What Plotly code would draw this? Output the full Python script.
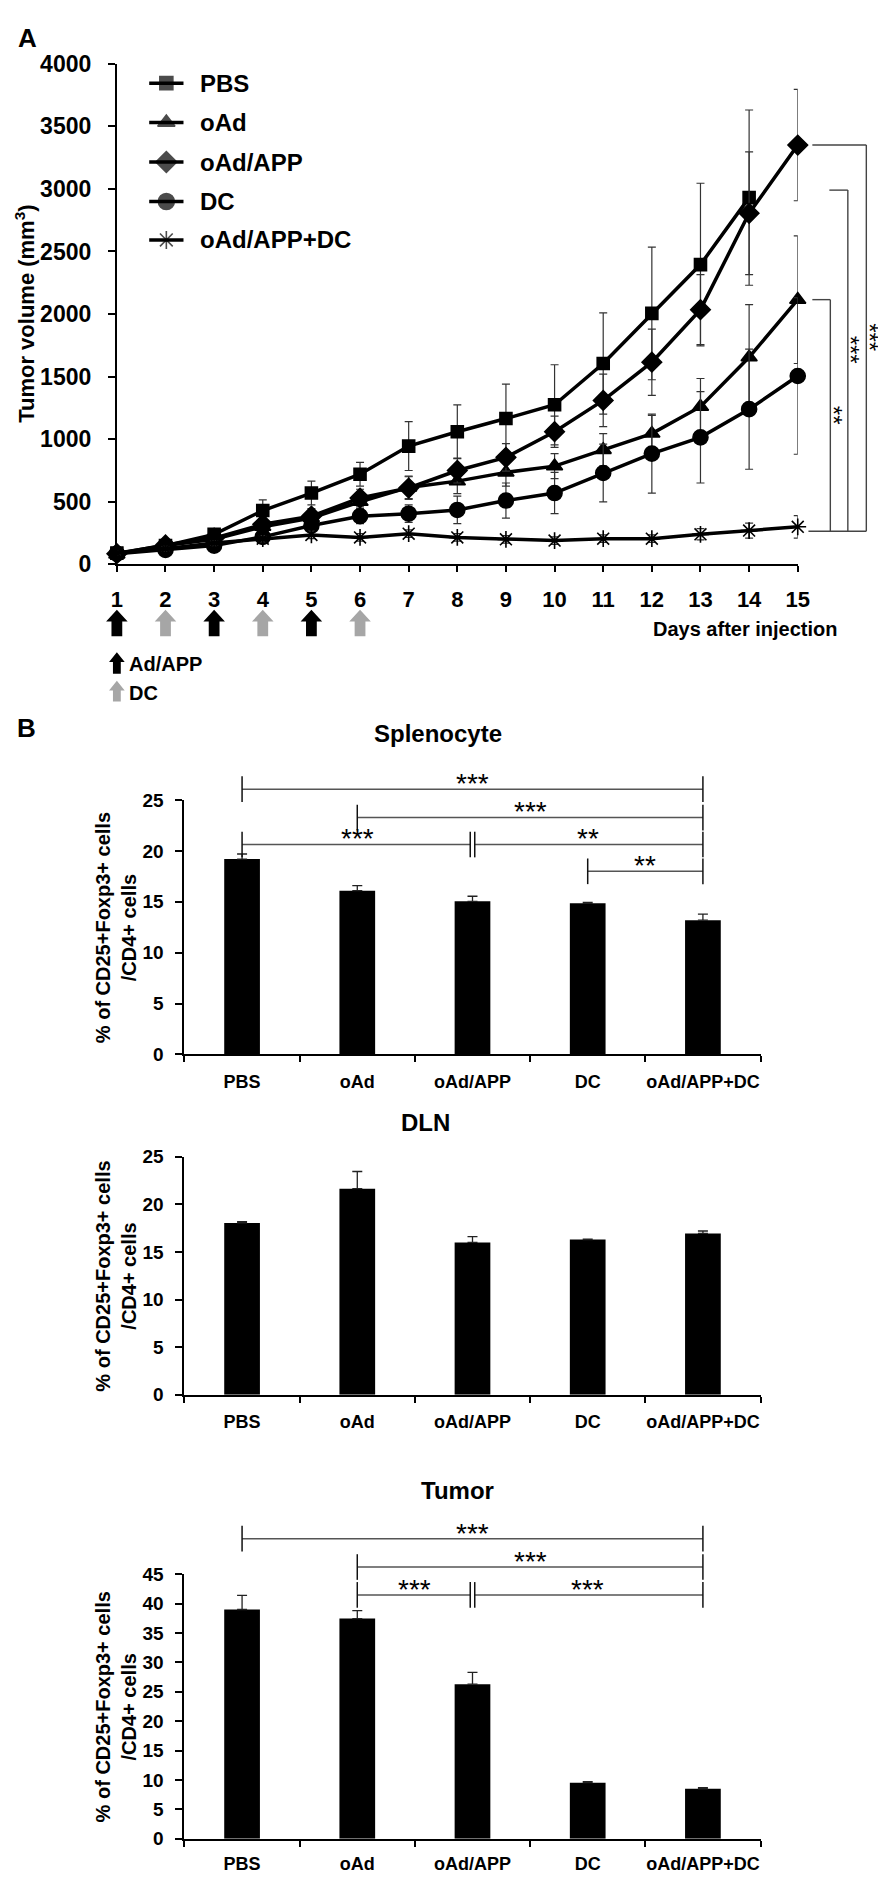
import plotly.graph_objects as go

W, H = 886, 1879
FONT = "Liberation Sans, Arial, Helvetica, sans-serif"

# ---------------- data: panel A (tumor volume, mm3) ----------------
days = list(range(1, 16))
pbs = [90, 150, 240, 430, 570, 720, 945, 1060, 1165, 1275, 1605, 2005, 2395, 2930]
pbs_err = [20, 25, 35, 85, 95, 95, 195, 215, 275, 320, 405, 530, 650, 700]
oad = [80, 150, 200, 300, 370, 500, 615, 665, 735, 785, 915, 1045, 1260, 1655, 2115]
oad_err = [15, 20, 30, 50, 60, 70, 90, 100, 110, 100, 130, 145, 225, 420, 510]
oadapp = [85, 155, 210, 320, 385, 530, 610, 750, 855, 1060, 1310, 1615, 2035, 2805, 3350]
oadapp_err = [15, 20, 30, 50, 60, 70, 90, 100, 110, 125, 210, 265, 280, 490, 445]
dc = [85, 115, 150, 220, 310, 385, 405, 435, 510, 570, 730, 885, 1015, 1240, 1505]
dc_err = [15, 20, 25, 30, 50, 60, 70, 110, 140, 165, 230, 315, 365, 480, 625]
combo = [90, 125, 170, 205, 235, 215, 245, 215, 200, 190, 205, 205, 240, 270, 300]
combo_err = [15, 20, 20, 25, 30, 30, 30, 30, 30, 30, 30, 30, 45, 60, 90]
adapp_days = [1, 3, 5]
dc_days = [2, 4, 6]

# ---------------- data: panel B (% CD25+Foxp3+ / CD4+) ----------------
groups = ["PBS", "oAd", "oAd/APP", "DC", "oAd/APP+DC"]
spl = [19.2, 16.1, 15.05, 14.85, 13.2]
spl_err = [0.5, 0.5, 0.5, 0.1, 0.6]
dln = [18.05, 21.65, 16.0, 16.3, 16.95]
dln_err = [0.12, 1.8, 0.6, 0.05, 0.25]
tum = [39.0, 37.45, 26.3, 9.55, 8.5]
tum_err = [2.4, 1.35, 2.0, 0.15, 0.2]

# significance brackets (group index from, to, level, label)
spl_sig = [(0, 4, 26.07, "***"), (1, 4, 23.28, "***"), (0, 2, 20.63, "***"),
           (2, 4, 20.63, "**"), (3, 4, 18.0, "**")]
tum_sig = [(0, 4, 51.04, "***"), (1, 4, 46.22, "***"), (1, 2, 41.48, "***"),
           (2, 4, 41.48, "***")]

# ---------------- geometry (pixels) ----------------
A_X = (105, 800)
A_Y = (551, 43.3)
B_X = (174, 762)
SPL_Y = (1048, 790)
DLN_Y = (1393, 1151.7)
TUM_Y = (1843.3, 1575)
LEG_ROWS = [63, 103, 143, 183, 222]


def dom_x(p):
    return [p[0] / W, p[1] / W]


def dom_y(p):
    return [1 - p[0] / H, 1 - p[1] / H]


def lin(v, r, p):
    return p[0] + (v - r[0]) * (p[1] - p[0]) / (r[1] - r[0])


def ax_px(d):
    return lin(d, (1, 15), A_X)


def ay_px(v):
    return lin(v, (0, 4000), A_Y)


def bx_px(c):
    return lin(c, (-0.5, 4.5), B_X)


def PX(p):
    return p / W


def PY(p):
    return 1 - p / H


fig = go.Figure()

# ---------------- panel A traces ----------------
series = [
    ("PBS", days[:len(pbs)], pbs, pbs_err, "square", 12),
    ("oAd", days, oad, oad_err, "triangle-up", 14),
    ("oAd/APP", days, oadapp, oadapp_err, "diamond", 15),
    ("DC", days, dc, dc_err, "circle", 15),
    ("oAd/APP+DC", days, combo, combo_err, "asterisk-open", 14),
]
for name, xs, ys, es, sym, sz in series:
    fig.add_trace(go.Scatter(
        x=xs, y=ys, name=name, mode="lines+markers",
        line=dict(color="black", width=3.5),
        marker=dict(symbol=sym, size=sz, color="black",
                    line=dict(color="black", width=1.6)),
        error_y=dict(type="data", array=es, thickness=1.2, width=4, color="#333"),
        cliponaxis=False, showlegend=False, xaxis="x", yaxis="y"))

# legend samples (drawn on a full-page pixel overlay axis)
annotations = []
for (name, xs, ys, es, sym, sz), row in zip(series, LEG_ROWS):
    fig.add_trace(go.Scatter(
        x=[138, 155.5, 173], y=[row, row, row], mode="lines+markers",
        line=dict(color="black", width=3.5),
        marker=dict(symbol=sym, size=[0, sz + 1, 0], color="black",
                    line=dict(color="black", width=1.6)),
        showlegend=False, hoverinfo="skip", cliponaxis=False,
        xaxis="x5", yaxis="y5"))
    annotations.append(dict(xref="paper", yref="paper", x=188 / W, y=1 - row / H,
                            text=name, showarrow=False, xanchor="left",
                            yanchor="middle",
                            font=dict(family=FONT, size=24, color="black",
                                      weight="bold")))

# ---------------- panel B traces ----------------
for vals, errs, xa, ya in [(spl, spl_err, "x2", "y2"), (dln, dln_err, "x3", "y3"),
                           (tum, tum_err, "x4", "y4")]:
    fig.add_trace(go.Bar(
        x=groups, y=vals, width=0.31, marker=dict(color="black", line=dict(width=0)),
        error_y=dict(type="data", array=errs, arrayminus=[0] * len(errs),
                     symmetric=False, thickness=1.3, width=5, color="#222"),
        showlegend=False, xaxis=xa, yaxis=ya))

shapes = []


def line(x0, y0, x1, y1, color="#444", width=1.4):
    shapes.append(dict(type="line", xref="paper", yref="paper",
                       x0=PX(x0), y0=PY(y0), x1=PX(x1), y1=PY(y1),
                       line=dict(color=color, width=width)))


def text(x, y, s, size, bold=True, angle=0, xanchor="center", yanchor="middle",
         color="black"):
    annotations.append(dict(xref="paper", yref="paper", x=PX(x), y=PY(y), text=s,
                            showarrow=False, textangle=angle, xanchor=xanchor,
                            yanchor=yanchor,
                            font=dict(family=FONT, size=size, color=color,
                                      weight="bold" if bold else "normal")))


# ---------------- panel A significance brackets ----------------
bot = 265
outer_x, mid_x, inner_x = 16.41, 16.03, 15.67
line(ax_px(15.30), ay_px(oadapp[-1]), ax_px(outer_x), ay_px(oadapp[-1]))
line(ax_px(outer_x), ay_px(oadapp[-1]), ax_px(outer_x), ay_px(bot))
line(ax_px(15.65), ay_px(2990), ax_px(mid_x), ay_px(2990))
line(ax_px(mid_x), ay_px(2990), ax_px(mid_x), ay_px(bot))
line(ax_px(15.30), ay_px(oad[-1]), ax_px(inner_x), ay_px(oad[-1]))
line(ax_px(inner_x), ay_px(oad[-1]), ax_px(inner_x), ay_px(bot))
line(ax_px(15.22), ay_px(bot), ax_px(outer_x), ay_px(bot))
# vertical star labels, just right of each bracket's vertical line
text(ax_px(inner_x) + 4, ay_px(1193), "**", 24, bold=False, angle=90)
text(ax_px(mid_x) + 2.5, ay_px(1713), "***", 24, bold=False, angle=90)
text(ax_px(outer_x) + 2.5, ay_px(1817), "***", 24, bold=False, angle=90)


# ---------------- arrows ----------------
def block_arrow(cx, ytop, yneck, ybot, hw, sw, color):
    pts = [(cx - sw / 2, ybot), (cx - sw / 2, yneck), (cx - hw / 2, yneck), (cx, ytop),
           (cx + hw / 2, yneck), (cx + sw / 2, yneck), (cx + sw / 2, ybot)]
    path = "M " + " L ".join(f"{PX(a):.5f},{PY(b):.5f}" for a, b in pts) + " Z"
    shapes.append(dict(type="path", xref="paper", yref="paper", path=path,
                       fillcolor=color, line=dict(width=0)))


for d in adapp_days:
    block_arrow(ax_px(d), 597, 609, 624, 22, 11, "black")
for d in dc_days:
    block_arrow(ax_px(d), 597, 609, 624, 22, 11, "#a6a6a6")
block_arrow(105, 640, 650, 662, 16, 8, "black")
block_arrow(105, 669, 679, 690, 16, 8, "#a6a6a6")
text(115, 652, "Ad/APP", 20, xanchor="left")
text(115, 681, "DC", 20, xanchor="left")
text(650, 617, "Days after injection", 20, xanchor="left")


# ---------------- panel B brackets ----------------
def brackets(sig, ypx_fun, tick_half=13):
    for (i, j, lev, lab) in sig:
        y = ypx_fun(lev)
        x0 = bx_px(i)
        x1 = bx_px(j)
        # double tick where two brackets meet on the same level
        for (i2, j2, lev2, _) in sig:
            if lev2 == lev and j2 == i:
                x0 += 2.3
            if lev2 == lev and i2 == j:
                x1 -= 2.3
        line(x0, y, x1, y, color="#555", width=1.5)
        line(x0, y - tick_half, x0, y + tick_half, color="#111", width=1.5)
        line(x1, y - tick_half, x1, y + tick_half, color="#111", width=1.5)
        text((bx_px(i) + bx_px(j)) / 2, y + 12, lab, 28, bold=False, yanchor="bottom")


brackets(spl_sig, lambda v: lin(v, (0, 25), SPL_Y))
brackets(tum_sig, lambda v: lin(v, (0, 45), TUM_Y))

# ---------------- titles and labels ----------------
text(14, 17, "A", 26)
text(13, 717, "B", 26)
text(433, 723, "Splenocyte", 24)
text(420, 1117, "DLN", 24)
text(453, 1490, "Tumor", 24)
text(11, (A_Y[0] + A_Y[1]) / 2, "Tumor volume (mm<sup>3</sup>)", 22, angle=-90)
ytitle = "% of CD25+Foxp3+ cells<br>/CD4+ cells"
for yy in (SPL_Y, DLN_Y, TUM_Y):
    text(104, (yy[0] + yy[1]) / 2, ytitle, 20, angle=-90)

axis_common = dict(showgrid=False, zeroline=False, showline=True, linecolor="black",
                   linewidth=2, ticks="outside", tickcolor="black", tickwidth=2,
                   fixedrange=True)
tf = lambda s: dict(family=FONT, size=s, color="black", weight="bold")

layout_axes = dict(
    xaxis=dict(domain=dom_x(A_X), anchor="y", range=[1, 15], tickvals=days,
               ticklen=6, tickfont=tf(22), ticklabelstandoff=8, tickangle=0,
               **axis_common),
    yaxis=dict(domain=dom_y(A_Y), anchor="x", range=[0, 4000], dtick=500,
               ticklen=7, tickfont=tf(23), ticklabelstandoff=12, **axis_common),
    xaxis5=dict(domain=[0, 1], range=[0, W], visible=False, anchor="y5",
                fixedrange=True),
    yaxis5=dict(domain=[0, 1], range=[H, 0], visible=False, anchor="x5",
                fixedrange=True),
)
for n, yy in [(2, SPL_Y), (3, DLN_Y), (4, TUM_Y)]:
    top = 25 if n < 4 else 45
    layout_axes[f"xaxis{n}"] = dict(domain=dom_x(B_X), anchor=f"y{n}", type="category",
                                    range=[-0.5, 4.5], tickson="boundaries", ticklen=6,
                                    tickangle=0, tickfont=tf(18),
                                    ticklabelstandoff=10 if n < 4 else 8,
                                    **axis_common)
    layout_axes[f"yaxis{n}"] = dict(domain=dom_y(yy), anchor=f"x{n}", range=[0, top],
                                    dtick=5, ticklen=7, tickfont=tf(19),
                                    ticklabelstandoff=8, **axis_common)

fig.update_layout(
    width=W, height=H, margin=dict(l=0, r=0, t=0, b=0),
    paper_bgcolor="white", plot_bgcolor="rgba(0,0,0,0)",
    font=dict(family=FONT, color="black"),
    showlegend=False,
    shapes=shapes, annotations=annotations,
    **layout_axes,
)

fig.write_html("out.html")
